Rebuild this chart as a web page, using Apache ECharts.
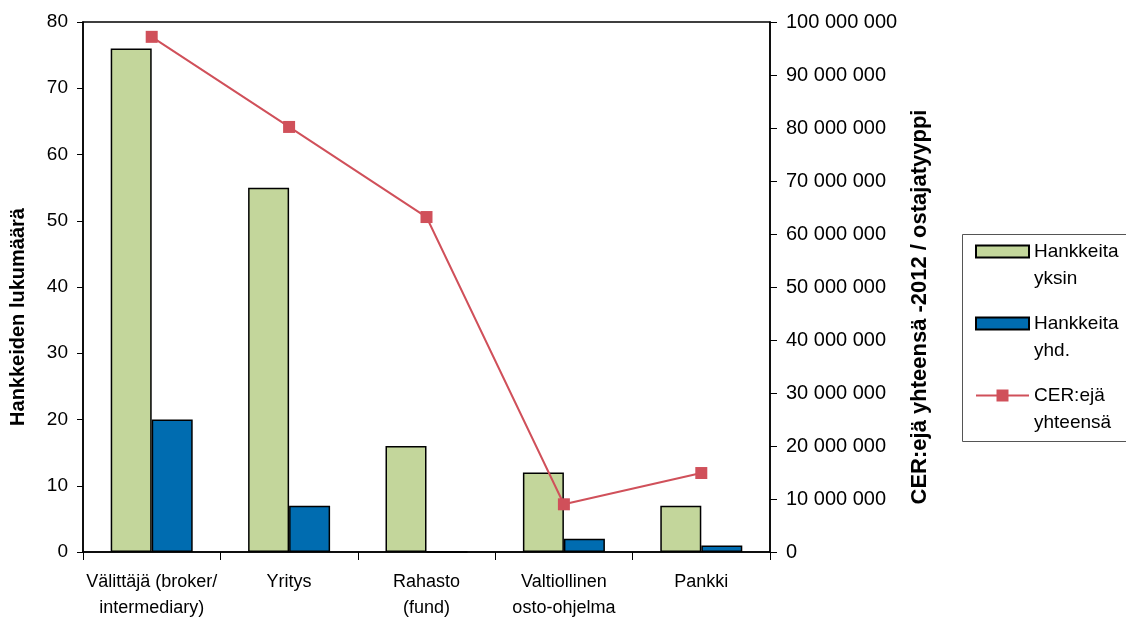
<!DOCTYPE html>
<html>
<head>
<meta charset="utf-8">
<script src="https://cdn.jsdelivr.net/npm/echarts@6/dist/echarts.min.js"></script>
<style>
html, body { margin: 0; padding: 0; background: #fff; }
#chart { width: 1126px; height: 622px; }
</style>
</head>
<body>
<div id="chart"></div>
<script>
// ostajatyypit
var categories = ['Välittäjä (broker/\nintermediary)', 'Yritys', 'Rahasto\n(fund)', 'Valtiollinen\nosto-ohjelma', 'Pankki'];
var yksin = [76, 55, 16, 12, 7];
var yhd = [20, 7, 0, 2, 1];
var cerTotal = [97200000, 80200000, 63200000, 9000000, 14900000];

var chart = echarts.init(document.getElementById('chart'));

function spaced(v) {
	return String(v).replace(/\B(?=(\d{3})+(?!\d))/g, ' ');
}

var font = 'Liberation Sans, Arial, sans-serif';

option = {
	animation: false,
	textStyle: { fontFamily: font },
	grid: {
		left: 83,
		right: 356,
		top: 22,
		bottom: 70,
		show: true,
		borderColor: '#000',
		borderWidth: 1.5
	},
	graphic: [{
		type: 'rect',
		left: 962,
		top: 234,
		shape: { width: 200, height: 207 },
		style: { fill: '#fff', stroke: '#555', lineWidth: 1 },
		z: 0
	}],
	legend: {
		orient: 'vertical',
		left: 975,
		top: 211,
		padding: 0,
		itemWidth: 53,
		itemHeight: 15,
		itemGap: -9,
		z: 10,
		data: [
			{ name: 'Hankkeita yksin', icon: 'path://M0,0H53V12H0Z' },
			{ name: 'Hankkeita yhd.', icon: 'path://M0,0H53V12H0Z' },
			{ name: 'CER:ejä yhteensä' }
		],
		formatter: function (name) {
			return '\n' + name.replace(' ', '\n');
		},
		textStyle: {
			fontFamily: font,
			fontSize: 19,
			lineHeight: 27,
			color: '#000'
		}
	},
	xAxis: [{
		type: 'category',
		data: categories,
		axisLine: { lineStyle: { color: '#000', width: 1.5 } },
		axisTick: { show: true, length: 8, lineStyle: { color: '#000' } },
		axisLabel: {
			color: '#000',
			fontSize: 18,
			lineHeight: 26,
			margin: 17,
			interval: 0
		}
	}],
	yAxis: [{
		type: 'value',
		min: 0,
		max: 80,
		interval: 10,
		name: 'Hankkeiden lukumäärä',
		nameLocation: 'middle',
		nameGap: 55,
		nameTextStyle: { color: '#000', fontSize: 20, fontWeight: 'bold', padding: [0, 60, 0, 0] },
		splitLine: { show: false },
		axisLine: { show: true, lineStyle: { color: '#000', width: 1.5 } },
		axisTick: { show: true, length: 6, lineStyle: { color: '#000' } },
		axisLabel: { color: '#000', fontSize: 19, margin: 15 }
	}, {
		type: 'value',
		min: 0,
		max: 100000000,
		interval: 10000000,
		name: 'CER:ejä yhteensä -2012 / ostajatyyppi',
		nameLocation: 'middle',
		nameGap: 139,
		nameRotate: 90,
		nameTextStyle: { color: '#000', fontSize: 22, fontWeight: 'bold', padding: [0, 40, 0, 0] },
		splitLine: { show: false },
		axisLine: { show: true, lineStyle: { color: '#000', width: 1.5 } },
		axisTick: { show: true, length: 7, lineStyle: { color: '#000' } },
		axisLabel: {
			color: '#000',
			fontSize: 20,
			margin: 16,
			formatter: function (v) { return spaced(v); }
		}
	}],
	series: [{
		name: 'Hankkeita yksin',
		type: 'bar',
		data: yksin,
		barWidth: 41,
		barGap: '0%',
		itemStyle: { color: '#c3d69b', borderColor: '#000', borderWidth: 1.5 }
	}, {
		name: 'Hankkeita yhd.',
		type: 'bar',
		data: yhd,
		barWidth: 41,
		itemStyle: { color: '#006cb0', borderColor: '#000', borderWidth: 1.5 }
	}, {
		name: 'CER:ejä yhteensä',
		type: 'line',
		yAxisIndex: 1,
		data: cerTotal,
		symbol: 'rect',
		symbolSize: 12,
		lineStyle: { color: '#d0505a', width: 2 },
		itemStyle: { color: '#d0505a' },
		z: 5
	}]
};
chart.setOption(option);
</script>
</body>
</html>
